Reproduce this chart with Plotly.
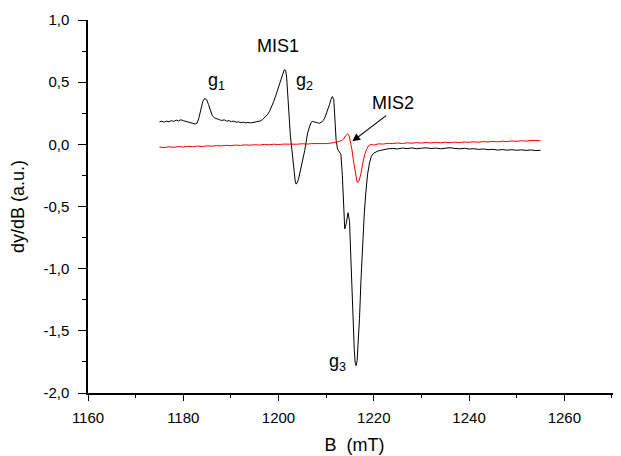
import plotly.graph_objects as go

# ---- data ----
black_B = [1175.0, 1175.5, 1176.0, 1176.5, 1177.0, 1177.5, 1178.0, 1178.5, 1179.0, 1179.5,
           1180.0, 1180.5, 1181.0, 1181.5, 1182.0, 1182.5, 1182.9, 1183.3, 1183.7, 1184.1,
           1184.5, 1184.9, 1185.3, 1185.7, 1186.1, 1186.6, 1187.1, 1187.6, 1188.1, 1188.6,
           1189.1, 1189.6, 1190.1, 1190.6, 1191.1, 1191.6, 1192.1, 1192.6, 1193.1, 1193.6,
           1194.1, 1194.6, 1195.1, 1195.6, 1196.1, 1196.6, 1197.1, 1197.6, 1198.1, 1198.6,
           1199.0, 1199.4, 1199.8, 1200.2, 1200.6, 1200.9, 1201.2, 1201.5, 1201.7, 1201.9,
           1202.2, 1202.5, 1202.8, 1203.0, 1203.3, 1203.5, 1203.7, 1203.9, 1204.2, 1204.5,
           1204.8, 1205.1, 1205.5, 1205.8, 1206.1, 1206.5, 1206.8, 1207.1, 1207.5, 1207.9,
           1208.3, 1208.6, 1209.0, 1209.4, 1209.7, 1210.0, 1210.4, 1210.7, 1211.0, 1211.3,
           1211.6, 1211.9, 1212.1, 1212.4, 1212.8, 1213.1, 1213.4, 1213.7, 1213.9, 1214.2,
           1214.4, 1214.6, 1214.9, 1215.1, 1215.4, 1215.6, 1215.9, 1216.1, 1216.3, 1216.5,
           1216.8, 1217.0, 1217.3, 1217.6, 1218.0, 1218.3, 1218.7, 1219.1, 1219.5, 1220.0,
           1220.5, 1221.0, 1221.5, 1222.0, 1222.6, 1223.0, 1224.0, 1225.0, 1226.0, 1227.0,
           1228.0, 1229.0, 1230.0, 1231.0, 1232.0, 1233.0, 1234.0, 1235.0, 1236.0, 1237.0,
           1238.0, 1239.0, 1240.0, 1241.0, 1242.0, 1243.0, 1244.0, 1245.0, 1246.0, 1247.0,
           1248.0, 1249.0, 1250.0, 1251.0, 1252.0, 1253.0, 1254.0, 1255.0]
black_y = [0.180, 0.186, 0.178, 0.187, 0.181, 0.191, 0.184, 0.195, 0.188, 0.198,
           0.190, 0.186, 0.182, 0.176, 0.169, 0.163, 0.170, 0.215, 0.290, 0.345,
           0.368, 0.360, 0.320, 0.265, 0.230, 0.212, 0.202, 0.198, 0.192, 0.197,
           0.186, 0.191, 0.182, 0.187, 0.178, 0.181, 0.175, 0.178, 0.172, 0.176,
           0.172, 0.176, 0.177, 0.180, 0.187, 0.198, 0.214, 0.236, 0.265, 0.305,
           0.345, 0.390, 0.440, 0.495, 0.545, 0.580, 0.600, 0.595, 0.540, 0.420,
           0.220, 0.060, -0.040, -0.120, -0.230, -0.295, -0.320, -0.310, -0.280, -0.230,
           -0.170, -0.110, -0.050, 0.020, 0.090, 0.140, 0.172, 0.185, 0.183, 0.176,
           0.172, 0.170, 0.178, 0.192, 0.212, 0.240, 0.280, 0.320, 0.360, 0.385,
           0.360, 0.200, 0.030, -0.040, -0.060, -0.080, -0.250, -0.560, -0.680, -0.640,
           -0.570, -0.550, -0.620, -0.850, -1.200, -1.420, -1.650, -1.760, -1.780, -1.740,
           -1.580, -1.400, -1.100, -0.850, -0.560, -0.400, -0.240, -0.150, -0.095, -0.070,
           -0.060, -0.052, -0.048, -0.042, -0.040, -0.036, -0.033, -0.037, -0.030, -0.034,
           -0.029, -0.035, -0.031, -0.028, -0.034, -0.030, -0.036, -0.031, -0.027, -0.033,
           -0.036, -0.032, -0.038, -0.035, -0.041, -0.037, -0.043, -0.040, -0.046, -0.042,
           -0.047, -0.043, -0.048, -0.044, -0.049, -0.045, -0.050, -0.048]

red_B = [1175.0, 1176.0, 1177.0, 1178.0, 1179.0, 1180.0, 1181.0, 1182.0, 1183.0, 1184.0,
         1185.0, 1186.0, 1187.0, 1188.0, 1189.0, 1190.0, 1191.0, 1192.0, 1193.0, 1194.0,
         1195.0, 1196.0, 1197.0, 1198.0, 1199.0, 1200.0, 1201.0, 1202.0, 1203.0, 1204.0,
         1205.0, 1206.0, 1207.0, 1208.0, 1209.0, 1210.0, 1211.0, 1212.0, 1212.6, 1213.2,
         1213.7, 1214.1, 1214.5, 1214.8, 1215.1, 1215.4, 1215.8, 1216.2, 1216.5, 1216.9,
         1217.3, 1217.7, 1218.1, 1218.5, 1218.9, 1219.4, 1220.0, 1221.0, 1222.0, 1223.0,
         1224.0, 1225.0, 1226.0, 1227.0, 1228.0, 1229.0, 1230.0, 1231.0, 1232.0, 1233.0,
         1234.0, 1235.0, 1236.0, 1237.0, 1238.0, 1239.0, 1240.0, 1241.0, 1242.0, 1243.0,
         1244.0, 1245.0, 1246.0, 1247.0, 1248.0, 1249.0, 1250.0, 1251.0, 1252.0, 1253.0,
         1254.0, 1255.0]
red_y = [-0.022, -0.026, -0.020, -0.024, -0.018, -0.022, -0.016, -0.019, -0.014, -0.018,
         -0.012, -0.015, -0.010, -0.013, -0.008, -0.011, -0.006, -0.009, -0.004, -0.007,
         -0.003, -0.006, -0.001, -0.004, 0.001, -0.002, 0.002, 0.000, 0.004, 0.001,
         0.005, 0.002, 0.006, 0.004, 0.008, 0.006, 0.010, 0.015, 0.022, 0.030,
         0.045, 0.070, 0.083, 0.072, 0.025, -0.040, -0.150, -0.250, -0.305, -0.295,
         -0.235, -0.150, -0.080, -0.038, -0.012, 0.000, -0.006, 0.004, 0.002, 0.008,
         0.006, 0.011, 0.007, 0.012, 0.009, 0.014, 0.010, 0.015, 0.011, 0.016,
         0.012, 0.017, 0.013, 0.018, 0.014, 0.019, 0.016, 0.021, 0.017, 0.022,
         0.019, 0.024, 0.020, 0.025, 0.022, 0.027, 0.024, 0.029, 0.026, 0.031,
         0.028, 0.030]

y_tickvals = [1.0, 0.5, 0.0, -0.5, -1.0, -1.5, -2.0]
y_ticktext = ["1,0", "0,5", "0,0", "-0,5", "-1,0", "-1,5", "-2,0"]
x_tickvals = [1160, 1180, 1200, 1220, 1240, 1260]

FONT = "Liberation Sans, Arial, Helvetica, sans-serif"

fig = go.Figure()
fig.add_trace(go.Scatter(x=black_B, y=black_y, mode="lines",
                         line=dict(color="black", width=1), showlegend=False))
fig.add_trace(go.Scatter(x=red_B, y=red_y, mode="lines",
                         line=dict(color="#ff0000", width=1), showlegend=False))

label_font = dict(family=FONT, size=18, color="black")
fig.add_annotation(x=1199.8, y=0.79, text="MIS1", showarrow=False, font=label_font)
fig.add_annotation(x=1186.9, y=0.505, text="g<sub>1</sub>", showarrow=False, font=label_font)
fig.add_annotation(x=1205.5, y=0.505, text="g<sub>2</sub>", showarrow=False, font=label_font)
fig.add_annotation(x=1212.4, y=-1.755, text="g<sub>3</sub>", showarrow=False, font=label_font)
fig.add_annotation(x=1224.0, y=0.33, text="MIS2", showarrow=False, font=label_font)
fig.add_annotation(x=1215.5, y=0.024, ax=1222.9, ay=0.24, axref="x", ayref="y",
                   xref="x", yref="y", text="", showarrow=True,
                   arrowhead=2, arrowsize=1.3, arrowwidth=1.2, arrowcolor="black",
                   standoff=0, startstandoff=0)

# page body adds an 8px offset, so margins are reduced accordingly
fig.update_layout(
    width=621, height=456,
    margin=dict(l=80, r=8, t=11.5, b=71, autoexpand=False),
    paper_bgcolor="white", plot_bgcolor="white",
    font=dict(family=FONT, color="black"),
)
fig.update_xaxes(
    automargin=False,
    range=[1160, 1271.9], tickvals=x_tickvals, showgrid=False, zeroline=False,
    showline=True, linecolor="black", linewidth=1.5,
    ticks="outside", ticklen=6, tickwidth=1.2, tickcolor="black",
    minor=dict(dtick=10, tick0=1160, ticks="outside", ticklen=3, tickwidth=1.2, tickcolor="black"),
    tickfont=dict(family=FONT, size=15), ticklabelstandoff=4,
    title=dict(text="B  (mT)", font=dict(family=FONT, size=18), standoff=14),
)
fig.update_yaxes(
    automargin=False,
    range=[-2.0, 1.0], tickvals=y_tickvals, ticktext=y_ticktext, showgrid=False, zeroline=False,
    showline=True, linecolor="black", linewidth=1.5,
    ticks="outside", ticklen=8, tickwidth=1.2, tickcolor="black",
    minor=dict(dtick=0.25, tick0=0, ticks="outside", ticklen=4, tickwidth=1.2, tickcolor="black"),
    tickfont=dict(family=FONT, size=15), ticklabelstandoff=6,
    title=dict(text="dy/dB (a.u.)", font=dict(family=FONT, size=18), standoff=16),
)

fig.write_html("out.html")
